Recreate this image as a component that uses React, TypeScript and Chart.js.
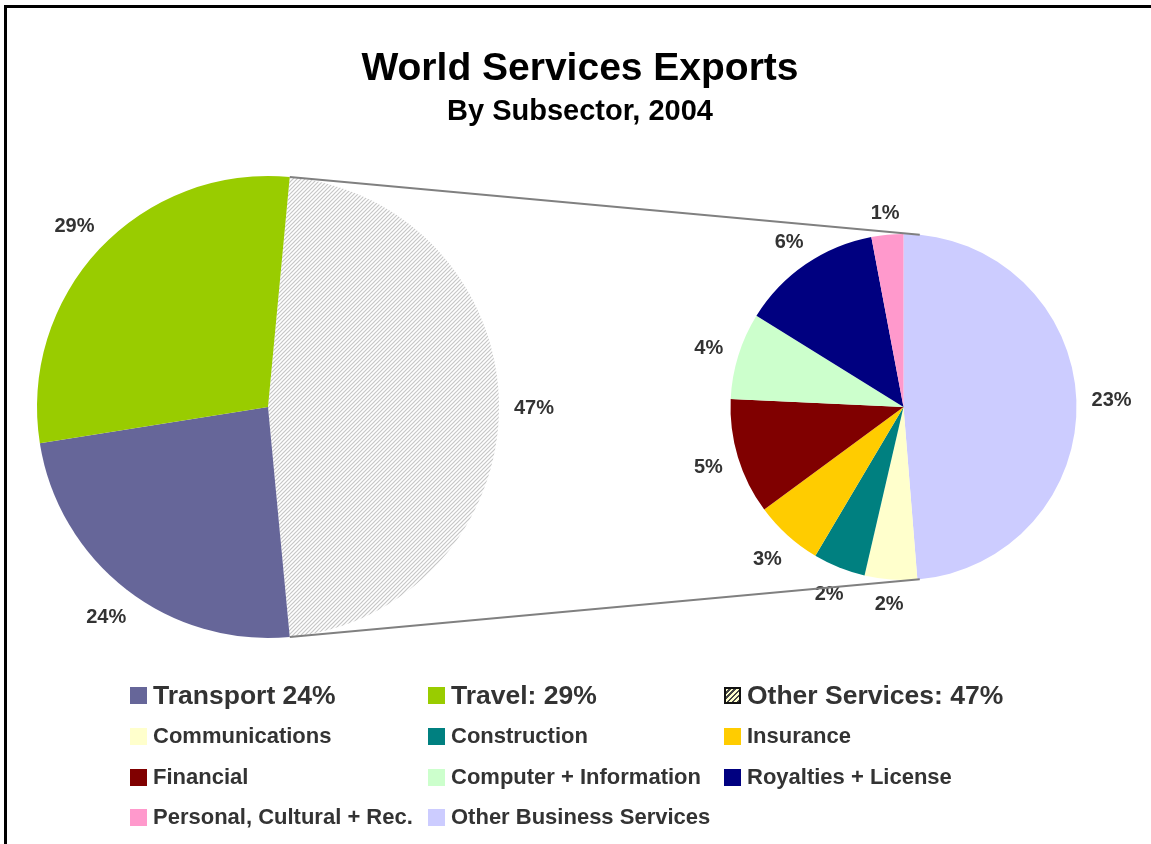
import React, { useEffect, useRef } from 'react';
import { Chart, registerables } from 'chart.js';

Chart.register(...registerables);

const FONT = '"Liberation Sans", Arial, Helvetica, sans-serif';

// ---- data ----
const mainLabels = ['Other Services', 'Transport', 'Travel'];
const mainValues = [47, 24, 29];
const mainColors = ['hatch', '#666699', '#99CC00'];

const subLabels = [
  'Other Business Services',
  'Communications',
  'Construction',
  'Insurance',
  'Financial',
  'Computer + Information',
  'Royalties + License',
  'Personal, Cultural + Rec.',
];
const subValues = [22.9, 2.3, 2.3, 3.0, 5.1, 3.8, 6.2, 1.4];
const subColors = ['#CCCCFF', '#FFFFCC', '#008080', '#FFCC00', '#800000', '#CCFFCC', '#000080', '#FF99CC'];

const legendTop = ['Transport 24%', 'Travel: 29%', 'Other Services: 47%'];
const legendTopColors = ['#666699', '#99CC00', 'hatch'];
const legendRows = [
  ['Communications', 'Construction', 'Insurance'],
  ['Financial', 'Computer + Information', 'Royalties + License'],
  ['Personal, Cultural + Rec.', 'Other Business Services'],
];

const TITLE = 'World Services Exports';
const SUBTITLE = 'By Subsector, 2004';

function makeHatch(): CanvasPattern | string {
  const c = document.createElement('canvas');
  c.width = 4;
  c.height = 4;
  const g = c.getContext('2d');
  if (!g) return '#dddddd';
  g.fillStyle = '#ffffff';
  g.fillRect(0, 0, 4, 4);
  g.strokeStyle = '#c6c6c6';
  g.lineWidth = 1.2;
  g.beginPath();
  g.moveTo(-1, 5);
  g.lineTo(5, -1);
  g.moveTo(-1, 1);
  g.lineTo(1, -1);
  g.moveTo(3, 5);
  g.lineTo(5, 3);
  g.stroke();
  return g.createPattern(c, 'repeat') || '#dddddd';
}

function pctLabels(gap: number) {
  return {
    id: 'pctLabels',
    afterDatasetsDraw(chart: any) {
      const ctx = chart.ctx as CanvasRenderingContext2D;
      const meta = chart.getDatasetMeta(0);
      const data = chart.data.datasets[0].data as number[];
      ctx.save();
      ctx.font = `bold 20px ${FONT}`;
      ctx.fillStyle = '#333333';
      ctx.textAlign = 'center';
      ctx.textBaseline = 'alphabetic';
      meta.data.forEach((el: any, i: number) => {
        const p = el.getProps(['x', 'y', 'startAngle', 'endAngle', 'outerRadius'], true);
        const mid = (p.startAngle + p.endAngle) / 2;
        const txt = Math.round(data[i]) + '%';
        const w = ctx.measureText(txt).width;
        const h = 14.3;
        const c = Math.cos(mid);
        const s = Math.sin(mid);
        const d = p.outerRadius + gap + (Math.abs(c) * w) / 2 + (Math.abs(s) * h) / 2;
        ctx.fillText(txt, p.x + c * d, p.y + s * d + 7.2);
      });
      ctx.restore();
    },
  };
}

const W = 1151;
const H = 844;

function Swatch({ color, size }: { color: string; size: number }) {
  const style: React.CSSProperties =
    color === 'hatch'
      ? {
          width: size - 4,
          height: size - 4,
          border: '2px solid #111',
          background:
            'repeating-linear-gradient(135deg, #ffffcc 0px, #ffffcc 2px, #444 2px, #444 3.6px)',
        }
      : { width: size, height: size, background: color };
  return <div style={{ ...style, flex: '0 0 auto', marginRight: 6 }} />;
}

export default function App() {
  const leftRef = useRef<HTMLCanvasElement>(null);
  const rightRef = useRef<HTMLCanvasElement>(null);

  useEffect(() => {
    if (!leftRef.current || !rightRef.current) return;
    const hatch = makeHatch();
    const total = mainValues.reduce((a, b) => a + b, 0);
    const leftRotation = 90 - ((mainValues[0] / total) * 360) / 2;

    const left = new Chart(leftRef.current, {
      type: 'pie',
      data: {
        labels: mainLabels,
        datasets: [
          {
            data: mainValues,
            backgroundColor: mainColors.map((c) => (c === 'hatch' ? hatch : c)) as any,
            borderWidth: 0,
            hoverBorderWidth: 0,
            hoverOffset: 0,
            offset: 0,
          } as any,
        ],
      },
      options: {
        responsive: false,
        animation: false,
        events: [],
        rotation: leftRotation,
        layout: { padding: { left: 37, top: 176, right: W - 499, bottom: H - 638 } },
        plugins: { legend: { display: false }, tooltip: { enabled: false }, title: { display: false } },
      } as any,
      plugins: [pctLabels(15)] as any,
    });

    const connectors = {
      id: 'connectors',
      afterDatasetsDraw(chart: any) {
        const lel = left.getDatasetMeta(0).data[0] as any;
        const rel = chart.getDatasetMeta(0).data[0] as any;
        if (!lel || !rel) return;
        const lp = lel.getProps(['x', 'y', 'startAngle', 'endAngle', 'outerRadius'], true);
        const rp = rel.getProps(['x', 'y', 'outerRadius'], true);
        const ctx = chart.ctx as CanvasRenderingContext2D;
        ctx.save();
        ctx.strokeStyle = '#808080';
        ctx.lineWidth = 2;
        ctx.beginPath();
        for (const a of [lp.startAngle, lp.endAngle]) {
          ctx.moveTo(lp.x + lp.outerRadius * Math.cos(a), lp.y + lp.outerRadius * Math.sin(a));
          ctx.lineTo(rp.x + rp.outerRadius * Math.cos(a), rp.y + rp.outerRadius * Math.sin(a));
        }
        ctx.stroke();
        ctx.restore();
      },
    };

    const right = new Chart(rightRef.current, {
      type: 'pie',
      data: {
        labels: subLabels,
        datasets: [
          {
            data: subValues,
            backgroundColor: subColors,
            borderWidth: 0,
            hoverBorderWidth: 0,
            hoverOffset: 0,
            offset: 0,
          } as any,
        ],
      },
      options: {
        responsive: false,
        animation: false,
        events: [],
        rotation: 0,
        layout: { padding: { left: 730, top: 234, right: W - 1077, bottom: H - 580 } },
        plugins: { legend: { display: false }, tooltip: { enabled: false }, title: { display: false } },
      } as any,
      plugins: [pctLabels(15), connectors] as any,
    });

    return () => {
      right.destroy();
      left.destroy();
    };
  }, []);

  const colX = [130, 428, 724];
  const rowCenters = [736, 777, 817];
  const colorOf = (name: string) => subColors[subLabels.indexOf(name)];

  return (
    <div
      style={{
        position: 'absolute',
        left: 0,
        top: 0,
        width: W,
        height: H,
        overflow: 'hidden',
        background: '#ffffff',
        fontFamily: FONT,
      }}
    >
      <div
        style={{
          position: 'absolute',
          left: 4,
          top: 5,
          width: W + 20,
          height: H + 20,
          border: '3px solid #000',
          boxSizing: 'border-box',
        }}
      />
      <canvas ref={leftRef} width={W} height={H} style={{ position: 'absolute', left: 0, top: 0, display: 'block' }} />
      <canvas ref={rightRef} width={W} height={H} style={{ position: 'absolute', left: 0, top: 0, display: 'block' }} />
      <div
        style={{
          position: 'absolute',
          left: 0,
          width: 1160,
          top: 47,
          textAlign: 'center',
          fontSize: 39,
          lineHeight: '39px',
          fontWeight: 'bold',
          color: '#000',
        }}
      >
        {TITLE}
      </div>
      <div
        style={{
          position: 'absolute',
          left: 0,
          width: 1160,
          top: 96,
          textAlign: 'center',
          fontSize: 29,
          lineHeight: '29px',
          fontWeight: 'bold',
          color: '#000',
        }}
      >
        {SUBTITLE}
      </div>
      {legendTop.map((t, i) => (
        <div
          key={t}
          style={{
            position: 'absolute',
            left: colX[i],
            top: 695 - 13,
            height: 26,
            display: 'flex',
            alignItems: 'center',
            fontSize: 26.5,
            lineHeight: '26px',
            fontWeight: 'bold',
            color: '#333333',
            whiteSpace: 'nowrap',
          }}
        >
          <Swatch color={legendTopColors[i]} size={17} />
          <span>{t}</span>
        </div>
      ))}
      {legendRows.map((row, r) =>
        row.map((t, i) => (
          <div
            key={t}
            style={{
              position: 'absolute',
              left: colX[i],
              top: rowCenters[r] - 11,
              height: 22,
              display: 'flex',
              alignItems: 'center',
              fontSize: 22,
              lineHeight: '22px',
              fontWeight: 'bold',
              color: '#333333',
              whiteSpace: 'nowrap',
            }}
          >
            <Swatch color={colorOf(t)} size={17} />
            <span>{t}</span>
          </div>
        ))
      )}
    </div>
  );
}
